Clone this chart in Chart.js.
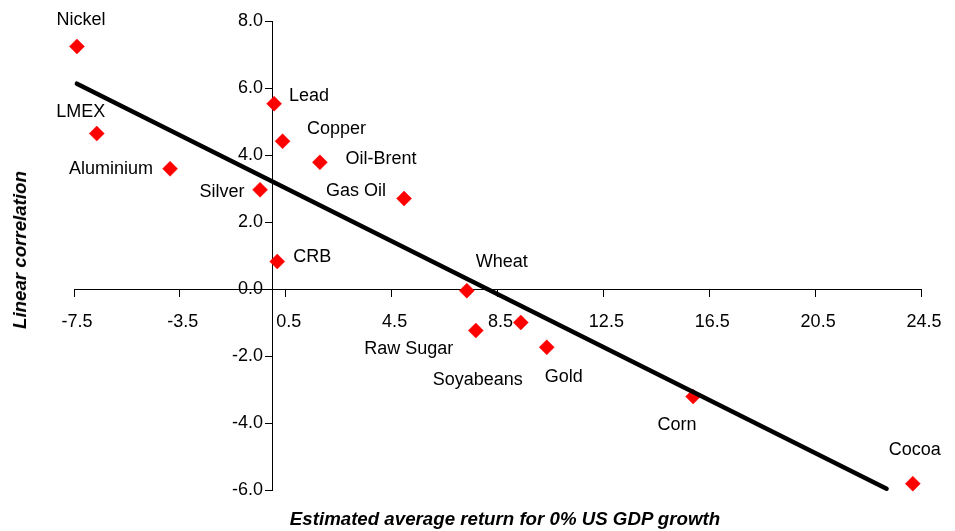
<!DOCTYPE html>
<html>
<head>
<meta charset="utf-8">
<script src="https://cdn.jsdelivr.net/npm/chart.js@4.4.1/dist/chart.umd.min.js"></script>
<style>
  html, body { margin: 0; padding: 0; background: #fff; }
  #wrap { position: relative; width: 955px; height: 531px; }
  canvas { display: block; }
  .titulo {
    position: absolute;
    font-family: "Liberation Sans", Arial, sans-serif;
    font-weight: bold;
    font-style: italic;
    font-size: 18.7px;
    color: #000;
    white-space: nowrap;
  }
  #tituloX { left: 505px; top: 519px; transform: translate(-50%, -50%); }
  #tituloY { left: 20px; top: 250px; transform: translate(-50%, -50%) rotate(-90deg); }
</style>
</head>
<body>
<div id="wrap">
  <canvas id="grafico" width="955" height="531"></canvas>
  <div class="titulo" id="tituloX">Estimated average return for 0% US GDP growth</div>
  <div class="titulo" id="tituloY">Linear correlation</div>
</div>
<script>
// ── DATOS ─────────────────────────────────────────────────
const nombres = ["Nickel", "LMEX", "Aluminium", "Silver", "Lead", "Copper", "Oil-Brent",
  "Gas Oil", "CRB", "Wheat", "Raw Sugar", "Soyabeans", "Gold", "Corn", "Cocoa"];
const retornos = [-7.39, -6.64, -3.87, -0.47, 0.06, 0.38, 1.79, 4.97, 0.18, 7.34, 7.68, 9.38, 10.36, 15.89, 24.19];
const correlaciones = [7.24, 4.64, 3.59, 2.96, 5.53, 4.41, 3.78, 2.70, 0.82, -0.05, -1.24, -1.00, -1.74, -3.21, -5.81];

const tendenciaX = [-7.39, 23.2];
const tendenciaY = [6.13, -5.96];

const ticksX = [-7.5, -3.5, 0.5, 4.5, 8.5, 12.5, 16.5, 20.5, 24.5];
const ticksY = [-6, -4, -2, 0, 2, 4, 6, 8];

// desplazamiento de cada etiqueta respecto a su punto (px)
const desplazamientos = [
  [4, -26], [-16, -22], [-59, 0], [-38, 2], [35, -8], [54, -12], [61, -3],
  [-48, -8], [35, -4], [35, -29], [-67, 18], [-43, 58], [17, 30], [-16, 28], [2, -34]
];

const fuente = '"Liberation Sans", Arial, sans-serif';

// ── ETIQUETAS DE PUNTOS ───────────────────────────────────
const etiquetasPuntos = {
  id: "etiquetasPuntos",
  afterDatasetsDraw(chart) {
    const meta = chart.getDatasetMeta(1);
    const ctx = chart.ctx;
    ctx.save();
    ctx.font = "18px " + fuente;
    ctx.fillStyle = "#000";
    ctx.textAlign = "center";
    ctx.textBaseline = "middle";
    meta.data.forEach((p, i) => {
      const [dx, dy] = desplazamientos[i];
      ctx.fillText(nombres[i], p.x + dx, p.y + dy);
    });
    ctx.restore();
  }
};

const ejeNegro = { drawOnChartArea: false, drawTicks: true, tickLength: 7, color: "#000", tickColor: "#000" };

// ── GRAFICO ───────────────────────────────────────────────
const ctx = document.getElementById("grafico").getContext("2d");
new Chart(ctx, {
  data: {
    datasets: [
      {
        type: "line",
        label: "Tendencia",
        data: tendenciaX.map((x, i) => ({ x, y: tendenciaY[i] })),
        borderColor: "#000",
        borderWidth: 4.5,
        borderCapStyle: "round",
        pointRadius: 0,
        fill: false,
        clip: false,
        order: 0,
      },
      {
        type: "scatter",
        label: "Materias primas",
        data: retornos.map((x, i) => ({ x, y: correlaciones[i] })),
        pointStyle: "rectRot",
        pointRadius: 7.5,
        backgroundColor: "#ff0000",
        borderColor: "#ff0000",
        borderWidth: 0.5,
        clip: false,
        order: 1,
      },
    ],
  },
  options: {
    responsive: false,
    animation: false,
    layout: { padding: { left: 74, right: 34, top: 21, bottom: 41 } },
    plugins: { legend: { display: false }, tooltip: { enabled: false } },
    scales: {
      x: {
        type: "linear",
        min: -7.5,
        max: 24.5,
        position: { y: 0 },
        afterBuildTicks: s => { s.ticks = ticksX.map(v => ({ value: v })); },
        afterFit: s => { s.height = 0; },
        grid: ejeNegro,
        border: { color: "#000", width: 1 },
        ticks: {
          color: "#000",
          font: { family: fuente, size: 18 },
          padding: 15,
          labelOffset: 3,
          maxRotation: 0,
          autoSkip: false,
          callback: v => v.toFixed(1),
        },
      },
      // eje vertical: línea y marcas
      y: {
        type: "linear",
        min: -6,
        max: 8,
        position: { x: 0 },
        afterBuildTicks: s => { s.ticks = ticksY.map(v => ({ value: v })); },
        afterFit: s => { s.width = 0; },
        grid: ejeNegro,
        border: { color: "#000", width: 1 },
        ticks: { display: false },
      },
      // eje vertical: sólo los textos, algo a la izquierda de la línea
      yTextos: {
        type: "linear",
        axis: "y",
        min: -6,
        max: 8,
        position: { x: -0.36 },
        afterBuildTicks: s => { s.ticks = ticksY.map(v => ({ value: v })); },
        afterFit: s => { s.width = 0; },
        grid: { display: false },
        border: { display: false },
        ticks: {
          color: "#000",
          font: { family: fuente, size: 18 },
          autoSkip: false,
          callback: v => v.toFixed(1),
        },
      },
    },
  },
  plugins: [etiquetasPuntos],
});
</script>
</body>
</html>
